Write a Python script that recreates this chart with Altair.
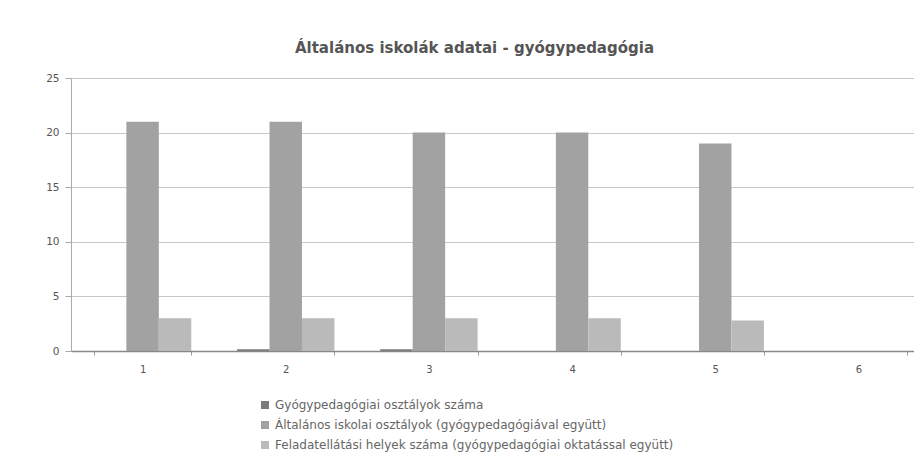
import altair as alt
import pandas as pd

categories = ["1", "2", "3", "4", "5", "6"]
series_names = [
    "Gyógypedagógiai osztályok száma",
    "Általános iskolai osztályok (gyógypedagógiával együtt)",
    "Feladatellátási helyek száma (gyógypedagógiai oktatással együtt)",
]
gyogy_osztalyok = [0, 0.15, 0.15, 0, 0, 0]
alt_osztalyok = [21, 21, 20, 20, 19, 0]
feladat_helyek = [3, 3, 3, 3, 2.8, 0]
series_colors = ["#7c7c7c", "#a2a2a2", "#bababa"]
title_text = "Általános iskolák adatai - gyógypedagógia"

rows = []
for name, vals in zip(series_names, [gyogy_osztalyok, alt_osztalyok, feladat_helyek]):
    for c, v in zip(categories, vals):
        rows.append({"kat": c, "sorozat": name, "ertek": v})
df = pd.DataFrame(rows)

font = "DejaVu Sans"

chart = alt.Chart(df).mark_bar().encode(
    x=alt.X(
        "kat:N",
        sort=categories,
        scale=alt.Scale(paddingInner=0.32, paddingOuter=0.16, range=[0, 859]),
        axis=alt.Axis(
            title=None, labelAngle=0, tickBand="extent", tickSize=4,
            tickColor="#999", domainColor="#888", domainWidth=1.5,
            labelPadding=9, labelFont=font, labelFontSize=10, labelColor="#555",
        ),
    ),
    xOffset=alt.XOffset("sorozat:N", sort=series_names),
    y=alt.Y(
        "ertek:Q",
        scale=alt.Scale(domain=[0, 25], nice=False),
        axis=alt.Axis(
            title=None, values=[0, 5, 10, 15, 20, 25], tickSize=6,
            tickColor="#aaa", domainColor="#aaa", gridColor="#c8c8c8",
            labelFont=font, labelFontSize=10.5, labelColor="#555", labelPadding=6,
        ),
    ),
    color=alt.Color(
        "sorozat:N",
        sort=series_names,
        scale=alt.Scale(domain=series_names, range=series_colors),
        legend=alt.Legend(
            title=None, orient="none", legendX=188, legendY=321,
            direction="vertical", symbolType="square", symbolSize=64,
            symbolStrokeWidth=0, labelFont=font, labelFontSize=12,
            labelColor="#666", rowPadding=8, labelLimit=700,
        ),
    ),
).properties(
    width=843,
    height=273,
    padding={"left": 63, "top": 70, "right": 0, "bottom": 104},
    autosize=alt.AutoSizeParams(type="none"),
    title=alt.TitleParams(
        title_text, font=font, fontSize=15, fontWeight="bold", color="#555",
        anchor="middle", dx=-18, offset=17,
    ),
).configure_view(stroke=None).configure_axis(grid=True).configure_axisX(grid=False)

chart.save("out.html", embed_options={"renderer": "svg", "actions": False})
